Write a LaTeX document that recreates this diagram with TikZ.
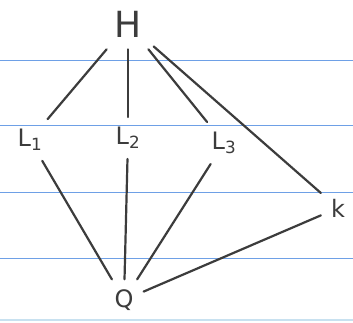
\documentclass[tikz,border=0pt]{standalone}
\usepackage{fontspec}
\setmainfont{DejaVu Sans}
\definecolor{rulec}{RGB}{110,160,230}
\definecolor{rulefaint}{RGB}{200,225,240}
\definecolor{ink}{RGB}{60,60,60}
\begin{document}
\begin{tikzpicture}[x=1pt,y=-1pt,
  lbl/.style={inner sep=10pt, font=\fontsize{24}{24}\selectfont, text=ink},
  big/.style={inner sep=12pt, font=\fontsize{36}{36}\selectfont, text=ink},
  edge/.style={draw=ink, line width=2.2pt, line cap=round},
  rule/.style={draw=rulec, line width=1.3pt}]
\useasboundingbox (0,0) rectangle (353,322);
\fill[white] (0,0) rectangle (353,322);
\foreach \y in {60.5,125.5,192.5,258.5} \draw[rule] (0,\y) -- (353,\y);
\draw[rule, draw=rulefaint] (0,320) -- (353,320);
\node[big] (H) at (128,24) {H};
\node[lbl] (L1) at (30,140) {L\textsubscript{1}};
\node[lbl] (L2) at (128,138) {L\textsubscript{2}};
\node[lbl] (L3) at (224,143) {L\textsubscript{3}};
\node[lbl] (K) at (338,208) {k};
\node[lbl] (Q) at (124,300) {Q};
\draw[edge] (H) -- (L1);
\draw[edge] (H) -- (L2);
\draw[edge] (H) -- (L3);
\draw[edge] (H) -- (K);
\draw[edge] (L1) -- (Q);
\draw[edge] (L2) -- (Q);
\draw[edge] (L3) -- (Q);
\draw[edge] (K) -- (Q);
\end{tikzpicture}
\end{document}
